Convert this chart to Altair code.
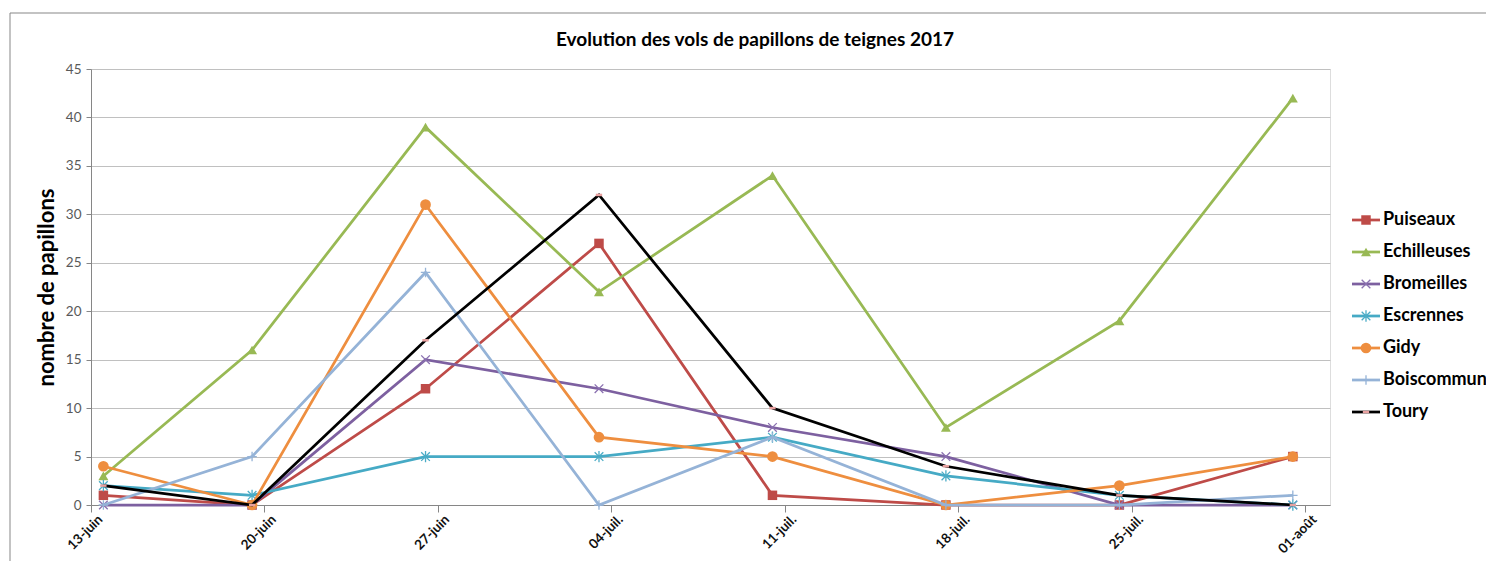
import altair as alt
import pandas as pd

# ---- data ----
etiquettes_dates = ["13-juin", "20-juin", "27-juin", "04-juil.", "11-juil.", "18-juil.", "25-juil.", "01-août"]
jours_graduations = [0, 7, 14, 21, 28, 35, 42, 49]
jours_releves = [0.5, 6.5, 13.5, 20.5, 27.5, 34.5, 41.5, 48.5]

series = ["Puiseaux", "Echilleuses", "Bromeilles", "Escrennes", "Gidy", "Boiscommun", "Toury"]
puiseaux = [1, 0, 12, 27, 1, 0, 0, 5]
echilleuses = [3, 16, 39, 22, 34, 8, 19, 42]
bromeilles = [0, 0, 15, 12, 8, 5, 0, 0]
escrennes = [2, 1, 5, 5, 7, 3, 1, 0]
gidy = [4, 0, 31, 7, 5, 0, 2, 5]
boiscommun = [0, 5, 24, 0, 7, 0, 0, 1]
toury = [2, 0, 17, 32, 10, 4, 1, 0]
valeurs = [puiseaux, echilleuses, bromeilles, escrennes, gidy, boiscommun, toury]

titre = "Evolution des vols de papillons de teignes 2017"
titre_y = "nombre de papillons"

# ---- styles ----
couleurs = ["#BE4B48", "#98B954", "#7D60A0", "#46AAC5", "#EE8E3F", "#95B3D7", "#000000"]
X_PATH = "M-1,-1L1,1M-1,1L1,-1"
AST_PATH = "M-1,-1L1,1M-1,1L1,-1M0,-1.3L0,1.3"
PLUS_PATH = "M-1,0L1,0M0,-1L0,1"
DASH_PATH = "M-1,0L1,0"
marqueurs = [
    dict(shape="square", filled=True, size=90),
    dict(shape="triangle-up", filled=True, size=100),
    dict(shape=X_PATH, filled=False, size=75, strokeWidth=1.3),
    dict(shape=AST_PATH, filled=False, size=75, strokeWidth=1.3),
    dict(shape="circle", filled=True, size=115),
    dict(shape=PLUS_PATH, filled=False, size=90, strokeWidth=1.3),
    dict(shape=DASH_PATH, filled=False, size=40, strokeWidth=2.5),
]
couleurs_marqueurs = ["#BE4B48", "#98B954", "#8A70B0", "#4BACC6", "#EE8E3F", "#95B3D7", "#E8A1A0"]

rows = []
for nom, vals in zip(series, valeurs):
    for j, v in zip(jours_releves, vals):
        rows.append({"serie": nom, "jour": j, "valeur": v})
df = pd.DataFrame(rows)

label_expr = "[" + ",".join("'" + s + "'" for s in etiquettes_dates) + "][round(datum.value/7)]"

x_enc = alt.X(
    "jour:Q",
    scale=alt.Scale(domain=[0, 50], nice=False, zero=False),
    axis=alt.Axis(
        values=jours_graduations, labelExpr=label_expr, labelAngle=-45,
        labelAlign="right", labelBaseline="middle", labelFont="Lato",
        labelFontSize=13.5, labelFontWeight="bold", labelColor="#111111",
        labelPadding=5, labelOffset=9, tickSize=7, tickColor="#868686",
        domainColor="#868686", grid=False, title=None, labelOverlap=False,
    ),
)
y_enc = alt.Y(
    "valeur:Q",
    scale=alt.Scale(domain=[0, 45], nice=False),
    axis=alt.Axis(
        values=list(range(0, 46, 5)), grid=True, gridColor="#C0C0C0",
        tickSize=5, tickColor="#868686", domainColor="#868686",
        labelFont="Lato", labelFontSize=13.5, labelColor="#595959", labelPadding=5,
        title=titre_y, titleFont="Lato", titleFontSize=22,
        titleFontWeight="bold", titleColor="#000000", titleX=-45, titleY=218,
        titleAngle=270, titleBaseline="middle", titleAlign="center",
    ),
)

layers = []

# outer chart-area border (decoration)
bord = alt.Chart(pd.DataFrame({"a": [0]})).mark_rect(
    fillOpacity=0, stroke="#878787", strokeWidth=1
).encode(x=alt.value(-81), x2=alt.value(1420), y=alt.value(-56), y2=alt.value(560))
layers.append(bord)

# chart title as text
layers.append(
    alt.Chart(pd.DataFrame({"t": [titre]})).mark_text(
        align="center", baseline="middle", font="Lato", fontSize=19,
        fontWeight="bold", color="#000000"
    ).encode(x=alt.value(664), y=alt.value(-29), text="t:N")
)

for i, nom in enumerate(series):
    base = alt.Chart(df).transform_filter(alt.datum.serie == nom)
    ligne = base.mark_line(color=couleurs[i], strokeWidth=2.75).encode(x=x_enc, y=y_enc)
    m = marqueurs[i]
    kw = dict(shape=m["shape"], filled=m["filled"], size=m["size"], opacity=1,
              color=couleurs_marqueurs[i])
    if "strokeWidth" in m:
        kw["strokeWidth"] = m["strokeWidth"]
    pts = base.mark_point(**kw).encode(x=x_enc, y=y_enc)
    layers += [ligne, pts]

# legend (decoration built from series names)
for i, nom in enumerate(series):
    yy = 151 + 32 * i
    d = alt.Chart(pd.DataFrame({"serie": [nom]}))
    regle = d.mark_rule(color=couleurs[i], strokeWidth=2.75).encode(
        x=alt.value(1261), x2=alt.value(1289), y=alt.value(yy))
    m = marqueurs[i]
    kw = dict(shape=m["shape"], filled=m["filled"], size=m["size"], opacity=1,
              color=couleurs_marqueurs[i])
    if "strokeWidth" in m:
        kw["strokeWidth"] = m["strokeWidth"]
    sym = d.mark_point(**kw).encode(x=alt.value(1275), y=alt.value(yy))
    txt = d.mark_text(align="left", baseline="middle", font="Lato", fontSize=18,
                      fontWeight="bold", color="#000000").encode(
        x=alt.value(1292), y=alt.value(yy), text="serie:N")
    layers += [regle, sym, txt]

chart = alt.layer(*layers).properties(
    width=1239,
    height=436,
    autosize=alt.AutoSizeParams(type="none"),
    padding={"left": 83, "top": 61, "right": 156, "bottom": 56},
).configure_view(strokeWidth=0).configure(background="white")

chart.save("out.html", embed_options={"renderer": "svg", "actions": False})
